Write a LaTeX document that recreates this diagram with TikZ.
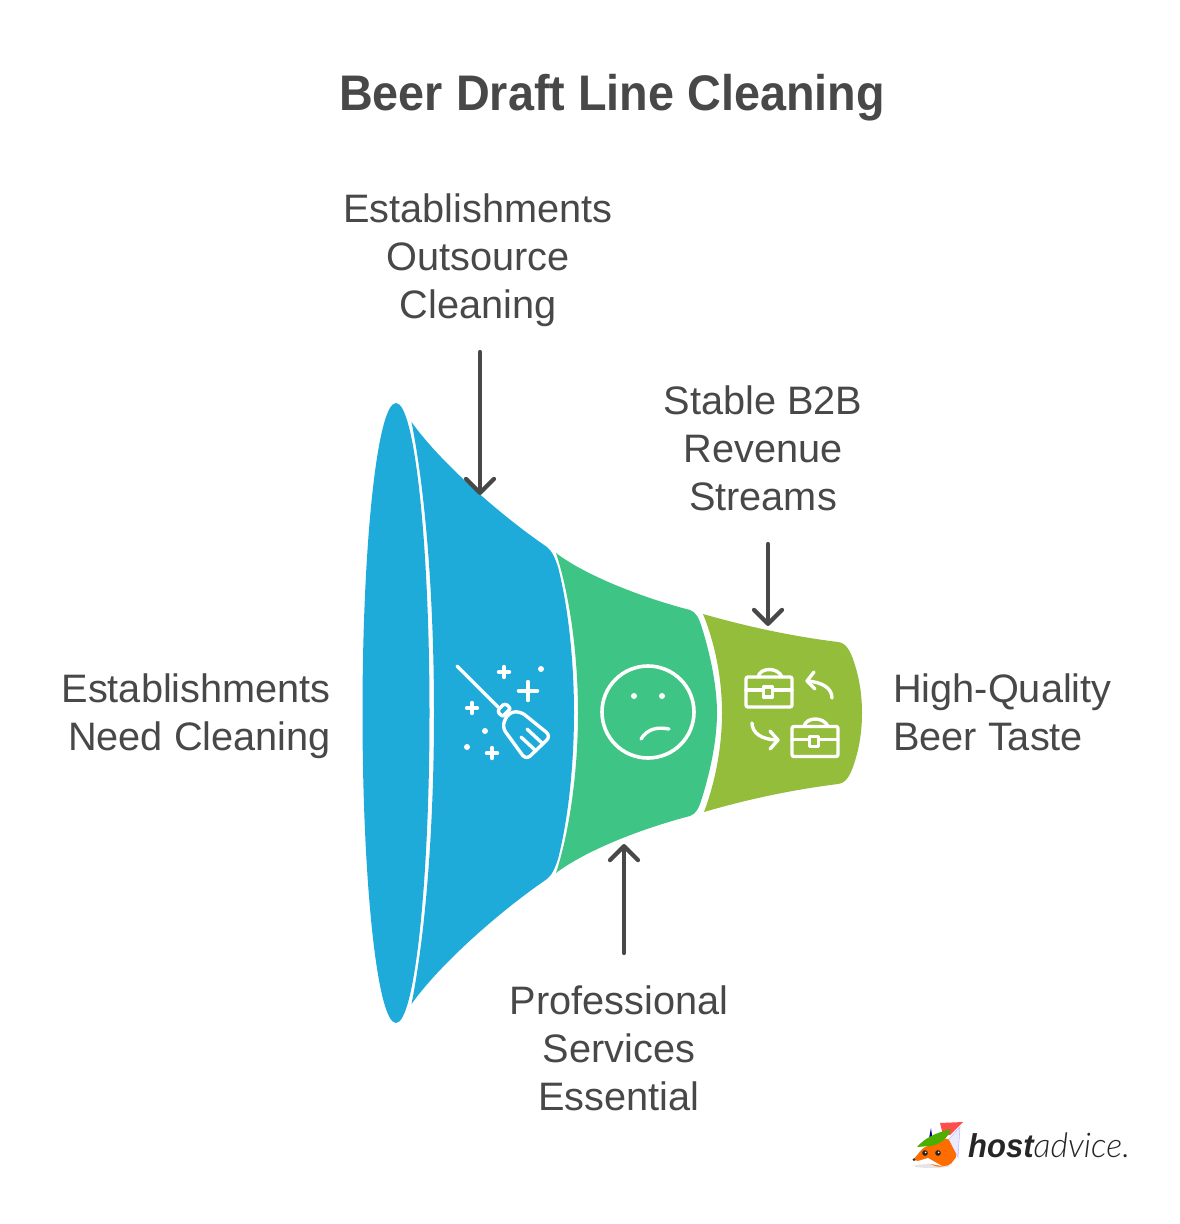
\documentclass[tikz,border=0pt]{standalone}
\usepackage{graphicx}
\usepackage{fontspec}
\setmainfont{Liberation Sans}
\newfontfamily\lightit{Lato}[UprightFont=* Light, ItalicFont=* Light Italic]
\usetikzlibrary{arrows.meta}
\definecolor{txt}{HTML}{484848}
\definecolor{cblue}{HTML}{1FABDA}
\definecolor{cgreen}{HTML}{3EC585}
\definecolor{clime}{HTML}{93BD3A}
\tikzset{
  lbl/.style={text=txt,inner sep=0pt,font=\fontsize{39.7}{48}\selectfont},
  ttl/.style={text=txt,inner sep=0pt,font=\fontsize{50}{56}\selectfont\bfseries},
  conn/.style={draw=txt,line width=4.2pt,line cap=round,line join=round,-{Straight Barb[length=14pt,width=28pt,line width=4.2pt,round]}},
  ico/.style={draw=white,line width=3.4pt,line cap=round,line join=round},
  icof/.style={fill=white},
}
\begin{document}
\begin{tikzpicture}[x=1pt,y=-1pt]
\useasboundingbox (0,0) rectangle (1180,1224);
\fill[white] (0,0) rectangle (1180,1224);
% funnel
\fill[cblue] (396,403) .. controls (377.5,403) and (362.5,541.8) .. (362.5,713) .. controls (362.5,884.2) and (377.5,1023) .. (396,1023) .. controls (414.5,1023) and (429.5,884.2) .. (429.5,713) .. controls (429.5,541.8) and (414.5,403) .. (396,403) -- cycle;
\fill[cblue] (411.5,422) .. controls (440,462) and (500,515) .. (547,547) .. controls (552,551) and (555,558) .. (558,567) .. controls (569,610) and (574,665) .. (574,713) .. controls (574,761) and (569,816) .. (558,859) .. controls (555,868) and (552,875) .. (547,879) .. controls (500,911) and (440,964) .. (411.5,1004) .. controls (427,926) and (434,816) .. (434,713) .. controls (434,610) and (427,500) .. (411.5,422) -- cycle;
\fill[cgreen] (556,553) .. controls (585,575) and (640,597) .. (690,610) .. controls (696,612) and (699,618) .. (702,628) .. controls (712,660) and (717,690) .. (717,713) .. controls (717,736) and (712,766) .. (702,798) .. controls (699,808) and (696,814) .. (690,816) .. controls (640,829) and (585,851) .. (556,873) .. controls (570,830) and (578,770) .. (578,713) .. controls (578,656) and (570,596) .. (556,553) -- cycle;
\fill[clime] (703,614) .. controls (745,626) and (790,636) .. (838,642) .. controls (846,643) and (850,650) .. (854,662) .. controls (860,680) and (862,697) .. (862,713) .. controls (862,729) and (860,746) .. (854,764) .. controls (850,776) and (846,783) .. (838,784) .. controls (790,790) and (745,800) .. (704,812) .. controls (716,780) and (722,745) .. (722,713) .. controls (722,681) and (716,646) .. (703,614) -- cycle;
% broom icon
\draw[ico] (457,666) -- (498,707);
\draw[ico] (499,709) -- (503,705) .. controls (506,703) and (509,706) .. (510,709) -- (503,716) .. controls (500,715) and (497,712) .. (499,709) -- cycle;
\draw[ico,rounded corners=6pt] (520,711) -- (551,736) -- (526,760) -- (502,727) -- (508,713) -- cycle;
\draw[ico] (527,729) -- (542,743) (521,737) -- (535,750);
\foreach \px/\py/\s in {504/672/5.5,528/691/9.5,472/708/5.5,492/753/5.5}{
  \draw[ico] (\px-\s,\py) -- (\px+\s,\py) (\px,\py-\s) -- (\px,\py+\s);
}
\fill[icof] (541,669) circle (3) (485,731) circle (3) (467,747) circle (3);
% sad face icon
\draw[draw=white,line width=3.6pt] (648,712) circle (46);
\fill[icof] (634,696) circle (3) (662,696) circle (3);
\draw[ico] (641,739) .. controls (648,728) and (658,727) .. (669,729);
% briefcase icon
\foreach \dx/\dy in {0/0,46/49.5}{
\begin{scope}[shift={(\dx,\dy)}]
  \draw[ico,rounded corners=2pt] (746,677) rectangle (792,707);
  \draw[ico] (746,690) -- (763,690) (773,690) -- (792,690);
  \draw[ico] (763.5,687) rectangle (772.5,697);
  \draw[ico] (758,677) .. controls (760,667) and (778,667) .. (782,677);
\end{scope}}
\draw[ico] (832,698) .. controls (832,688) and (822,682) .. (807,681);
\draw[ico] (814,672) -- (807,681) -- (815,689);
\draw[ico] (752,723) .. controls (752,733) and (762,740) .. (778,740);
\draw[ico] (770,731) -- (778,740) -- (770,749);
% labels
\node[ttl,anchor=base] (title) at (612,110) {\scalebox{.935}[1]{Beer Draft Line Cleaning}};
\node[lbl,align=center] (outsource) at (478,260) {Establishments\\Outsource\\Cleaning};
\node[lbl,align=center] (revenue) at (763,448) {Stable B2B\\Revenue\\Streams};
\node[lbl,align=right,anchor=east] (need) at (331,716) {Establishments\\Need Cleaning};
\node[lbl,align=left,anchor=west] (taste) at (893,712) {High-Quality\\Beer Taste};
\node[lbl,align=center] (services) at (619,1048) {Professional\\Services\\Essential};
% connectors
\coordinate (a1s) at (480,352); \coordinate (a1e) at (480,495);
\coordinate (a2s) at (768,544); \coordinate (a2e) at (768,626);
\coordinate (a3s) at (624,953); \coordinate (a3e) at (624,844);
\draw[conn] (a1s) -- (a1e);
\draw[conn] (a2s) -- (a2e);
\draw[conn] (a3s) -- (a3e);
% logo
\fill[black!10] (932,1166) ellipse (18 and 2);
\fill[blue!8,draw=blue!25,line width=.6pt] (960,1127) -- (948,1140) -- (958,1157) -- cycle;
\fill[orange!85!red,rounded corners=2pt] (913,1160) -- (923,1148) -- (942,1140) -- (948,1138) -- (957,1156) -- (950,1165) -- (938,1167) -- (925,1162) -- cycle;
\fill[white] (918,1161) -- (928,1158) -- (942,1166) -- (925,1163) -- cycle;
\fill[black!80] (914,1159.5) circle (1.5);
\fill[blue!50!black] (931,1128) -- (932.5,1139) -- (928.5,1141) -- cycle;
\fill[red!70!white] (940,1123) -- (963,1122) -- (950,1135) -- (943,1135) -- cycle;
\fill[green!55!black!70!yellow] (917,1147) .. controls (925,1138) and (935,1133) .. (951,1129) .. controls (948,1138) and (940,1145) .. (930,1146) -- cycle;
\fill[black!85] (925,1153) circle (2.8) (938,1153) circle (2.8);
\fill[white] (925.6,1152.4) circle (.9) (938.6,1152.4) circle (.9);
\node[inner sep=0pt,anchor=base west,text=black!85] (logo) at (968,1157) {\scalebox{.94}[1]{\fontsize{33}{36}\selectfont\itshape\textbf{host}}\scalebox{1}[1]{\fontsize{34}{36}\selectfont\lightit\itshape advice.}};
\end{tikzpicture}
\end{document}
